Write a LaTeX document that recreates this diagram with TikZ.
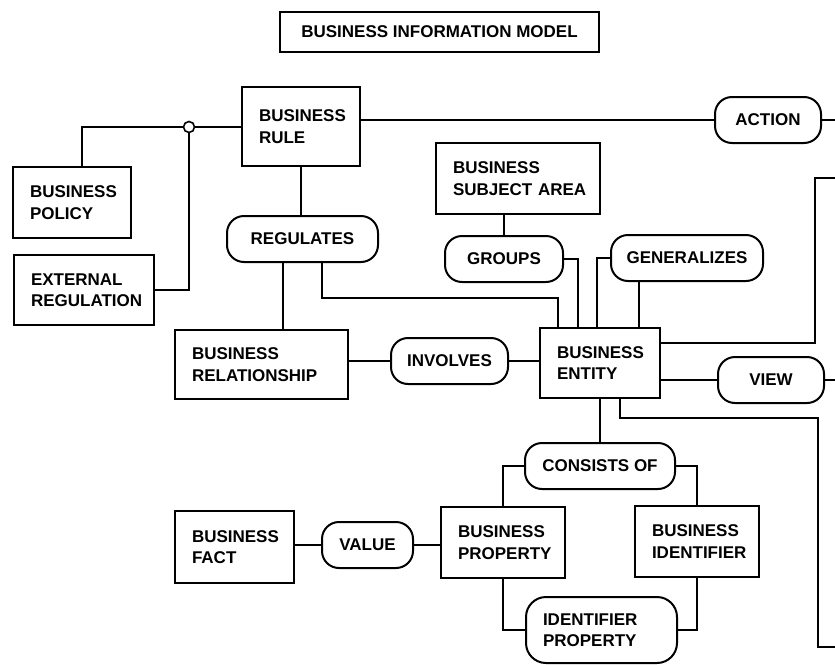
\documentclass[tikz,border=0pt]{standalone}
\usepackage{fontspec}
\setmainfont{Liberation Sans}
\begin{document}
\begin{tikzpicture}[x=1pt,y=-1pt,
  base/.style={draw, line width=2pt, font=\fontsize{17}{21.5}\selectfont\bfseries, inner ysep=0pt},
  ebox/.style={base, rectangle, inner xsep=17pt, align=left},
  pill/.style={base, rectangle, rounded corners=17pt, inner xsep=0pt, align=center},
  titlebox/.style={base, rectangle, inner xsep=0pt, align=center},
  junction/.style={draw, circle, fill=white, line width=1.6pt, minimum size=11pt, inner sep=0pt},
  link/.style={line width=2pt}]
\fill[white] (0,0) rectangle (835,664);
\useasboundingbox (0,0) rectangle (835,664);

% title
\node[titlebox, minimum width=319pt, minimum height=40pt] (title) at (439.5,32) {BUSINESS INFORMATION MODEL};

% entity boxes
\node[ebox, text width=84pt, minimum height=79pt] (rule) at (301,126.5) {BUSINESS\\RULE};
\node[ebox, text width=84pt, minimum height=71pt] (policy) at (72,202.5) {BUSINESS\\POLICY};
\node[ebox, text width=106pt, minimum height=70pt] (extreg) at (84,290) {EXTERNAL\\REGULATION};
\node[ebox, text width=130pt, minimum height=71pt] (subject) at (518,178.5) {BUSINESS\\SUBJECT~AREA};
\node[ebox, text width=139pt, minimum height=69pt] (relationship) at (261.5,364.5) {BUSINESS\\RELATIONSHIP};
\node[ebox, text width=86pt, minimum height=70pt] (entity) at (600,363) {BUSINESS\\ENTITY};
\node[ebox, text width=90pt, minimum height=71pt] (property) at (503,542.5) {BUSINESS\\PROPERTY};
\node[ebox, text width=90pt, minimum height=71pt] (identifier) at (697,541.5) {BUSINESS\\IDENTIFIER};
\node[ebox, text width=85pt, minimum height=72pt] (fact) at (234.5,547) {BUSINESS\\FACT};

% relationship pills
\node[pill, minimum width=151pt, minimum height=46pt] (regulates) at (302.5,239) {REGULATES};
\node[pill, minimum width=118pt, minimum height=46pt] (groups) at (504,259) {GROUPS};
\node[pill, minimum width=152pt, minimum height=46pt] (generalizes) at (687,258) {GENERALIZES};
\node[pill, minimum width=106pt, minimum height=46pt] (action) at (768,120) {ACTION};
\node[pill, minimum width=117pt, minimum height=46pt] (involves) at (449.5,361) {INVOLVES};
\node[pill, minimum width=106pt, minimum height=46pt] (view) at (771,380) {VIEW};
\node[pill, minimum width=150pt, minimum height=46pt] (consists) at (600,466) {CONSISTS OF};
\node[pill, minimum width=91pt, minimum height=46pt] (value) at (367.5,545) {VALUE};
\node[base, rectangle, rounded corners=20pt, inner xsep=17pt, align=left, text width=117pt, minimum height=66pt] (idprop) at (601.5,630) {IDENTIFIER\\PROPERTY};

% junction and routing points
\node[junction] (jn) at (189,127) {};
\coordinate (c1) at (558,298);
\coordinate (c3) at (815,178);
\coordinate (c4) at (818,418);
\coordinate (c5) at (818,647);
\coordinate (edgeA) at (835,120);
\coordinate (edgeB) at (835,178);
\coordinate (edgeV) at (835,380);
\coordinate (edgeC) at (835,647);

% connectors
\draw[link] ([xshift=10pt]policy.north) |- (jn);
\draw[link] (extreg) -| (jn);
\draw[link] (jn) -- (jn -| rule.west);
\draw[link] (rule.east |- action) -- (action);
\draw[link] (action) -- (edgeA);
\draw[link] (rule.south) -- (rule.south |- regulates.north);
\draw[link] ([xshift=-19.5pt]regulates.south) -- ([xshift=-19.5pt]regulates.south |- relationship.north);
\draw[link] ([xshift=19.5pt]regulates.south) |- (c1) -- (c1 |- entity.north);
\draw[link] (groups.north) -- (groups.north |- subject.south);
\draw[link] (groups.east) -| ([xshift=-22pt]entity.north);
\draw[link] (generalizes.west) -| ([xshift=-3pt]entity.north);
\draw[link] ([xshift=39pt]entity.north) -- ([xshift=39pt]entity.north |- generalizes.south);
\draw[link] (relationship.east |- involves) -- (involves);
\draw[link] (involves) -- (involves -| entity.west);
\draw[link] ([yshift=20pt]entity.east) -| (c3) -- (edgeB);
\draw[link] (entity.east |- view) -- (view);
\draw[link] (view) -- (edgeV);
\draw[link] ([xshift=20pt]entity.south) |- (c4) -- (c5) -- (edgeC);
\draw[link] (entity.south) -- (entity.south |- consists.north);
\draw[link] (consists.west) -| (property.north);
\draw[link] (consists.east) -| (identifier.north);
\draw[link] (property.south) |- (idprop.west);
\draw[link] (identifier.south) |- (idprop.east);
\draw[link] (fact.east |- value) -- (value);
\draw[link] (value) -- (value -| property.west);
\end{tikzpicture}
\end{document}
